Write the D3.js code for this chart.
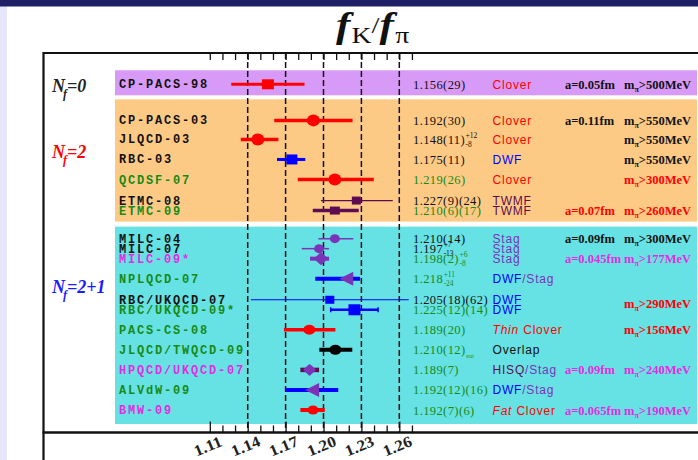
<!DOCTYPE html>
<html><head><meta charset="utf-8">
<script src="https://cdn.jsdelivr.net/npm/d3@7"></script>
<style>body{margin:0;background:#fff;overflow:hidden}svg{display:block}</style>
</head><body><svg id="c" width="698" height="460"></svg>
<script>
// ---------- data ----------
const labels = ["CP-PACS-98","CP-PACS-03","JLQCD-03","RBC-03","QCDSF-07","ETMC-08","ETMC-09","MILC-04","MILC-07","MILC-09*","NPLQCD-07","RBC/UKQCD-07","RBC/UKQCD-09*","PACS-CS-08","JLQCD/TWQCD-09","HPQCD/UKQCD-07","ALVdW-09","BMW-09"];
const slots = [0,3.6,5.5,7.5,9.5,11.6,12.6,15.4,16.4,17.4,19.4,21.5,22.5,24.5,26.5,28.5,30.5,32.5];
const centers = [1.156,1.192,1.148,1.175,1.209,1.226,1.209,1.209,1.1965,1.198,1.218,1.205,1.2245,1.1888,1.2094,1.189,1.191,1.1917];
const lows  = [1.127,1.161,1.1345,1.1632,1.1796,1.198,1.1915,1.196,1.1828,1.1893,1.1935,1.1425,1.2057,1.1687,1.1967,1.1817,1.1703,1.1817];
const highs = [1.185,1.223,1.1643,1.1856,1.2398,1.2548,1.2279,1.2236,1.2044,1.2044,1.229,1.2675,1.2432,1.2094,1.2228,1.1965,1.2117,1.201];
const valueMain = ["1.156(29)","1.192(30)","1.148(11)","1.175(11)","1.219(26)","1.227(9)(24)","1.210(6)(17)","1.210(14)","1.197","1.198(2)","1.218","1.205(18)(62)","1.225(12)(14)","1.189(20)","1.210(12)","1.189(7)","1.192(12)(16)","1.192(7)(6)"];
const valueSup = ["","","+12","","","","","","+7","+6","+11","","","","","","",""];
const valueSub = ["","","-8","","","","","","-13","-8","-24","","","","stat","","",""];
const methods = ["Clover","Clover","Clover","DWF","Clover","TWMF","TWMF","Stag","Stag","Stag","DWF/Stag","DWF","DWF","Thin Clover","Overlap","HISQ/Stag","DWF/Stag","Fat Clover"];
const spacingSlots = [0,3.6,12.6,15.4,17.4,28.5,32.5];
const spacings = ["a=0.05fm","a=0.11fm","a=0.07fm","a=0.09fm","a=0.045fm","a=0.09fm","a=0.065fm"];
const massSlots = [0,3.6,5.5,7.5,9.5,12.6,15.4,17.4,21.85,24.5,28.5,32.5];
const massValues = ["500","550","550","550","300","260","300","177","290","156","240","190"];
const groupNames = ["0","2","2+1"];
const groupSlotRanges = [[-1.4,1.1],[1.5,13.7],[14.2,33.9]];
const groupLabelSlots = [0.35,7.0,20.4];
const tickValues = d3.range(111,128).map(v=>v/100);
const majorTicks = [1.11,1.14,1.17,1.20,1.23,1.26];
const dashedValues = [1.14,1.17,1.20,1.23,1.26];

// ---------- styles ----------
const RED="#ff0000", BLUE="#0000ff", DPUR="#5e0c52", PUR="#7b33b8", GRN="#178a17", MAG="#e52be5", BLK="#111111";
const st = {
 "CP-PACS-98":{shape:"square",w:12,h:10,m:RED,b:RED,bw:3,lab:BLK,val:BLK},
 "CP-PACS-03":{shape:"circle",w:13,h:12,m:RED,b:RED,bw:3.5,lab:BLK,val:BLK},
 "JLQCD-03":{shape:"circle",w:13,h:12,m:RED,b:RED,bw:3.5,lab:BLK,val:BLK},
 "RBC-03":{shape:"square",w:11,h:10,m:BLUE,b:BLUE,bw:3,lab:BLK,val:BLK},
 "QCDSF-07":{shape:"circle",w:13,h:12,m:RED,b:RED,bw:3.5,lab:GRN,val:GRN},
 "ETMC-08":{shape:"square",w:9,h:8,m:DPUR,b:DPUR,bw:1.3,lab:BLK,val:BLK},
 "ETMC-09":{shape:"square",w:10,h:8,m:DPUR,b:DPUR,bw:3.5,lab:GRN,val:GRN},
 "MILC-04":{shape:"circle",w:10,h:9,m:PUR,b:PUR,bw:1.5,lab:BLK,val:BLK},
 "MILC-07":{shape:"circle",w:10,h:9,m:PUR,b:PUR,bw:1.5,lab:BLK,val:BLK},
 "MILC-09*":{shape:"diamond",w:12,h:11,m:PUR,b:PUR,bw:4,lab:MAG,val:GRN},
 "NPLQCD-07":{shape:"triangle",w:14,h:14,m:PUR,b:BLUE,bw:4,lab:GRN,val:GRN},
 "RBC/UKQCD-07":{shape:"square",w:9,h:8,m:BLUE,b:BLUE,bw:1.2,lab:BLK,val:BLK},
 "RBC/UKQCD-09*":{shape:"square",w:12,h:11,m:BLUE,b:BLUE,bw:2.5,cap:5,lab:GRN,val:GRN},
 "PACS-CS-08":{shape:"circle",w:12,h:10,m:RED,b:RED,bw:3.5,lab:GRN,val:GRN},
 "JLQCD/TWQCD-09":{shape:"circle",w:12,h:10,m:"#000",b:"#000",bw:4,lab:GRN,val:GRN},
 "HPQCD/UKQCD-07":{shape:"diamond",w:11,h:10,m:PUR,b:DPUR,bw:4.5,lab:MAG,val:GRN},
 "ALVdW-09":{shape:"triangle",w:14,h:14,m:PUR,b:BLUE,bw:4,lab:GRN,val:GRN},
 "BMW-09":{shape:"circle",w:11,h:9,m:RED,b:RED,bw:4,lab:MAG,val:GRN}
};
const methodSeg = {
 "Clover":[["Clover",RED]],
 "DWF":[["DWF",BLUE]],
 "TWMF":[["TWMF",DPUR]],
 "Stag":[["Stag",PUR]],
 "DWF/Stag":[["DWF",BLUE],["/Stag",PUR]],
 "Thin Clover":[["Thin ",RED,"italic"],["Clover",RED]],
 "Overlap":[["Overlap",BLK]],
 "HISQ/Stag":[["HISQ",DPUR],["/Stag",PUR]],
 "Fat Clover":[["Fat ",RED,"italic"],["Clover",RED]]
};
const spacingColors = [BLK,BLK,RED,BLK,MAG,MAG,MAG];
const massColors = [BLK,BLK,BLK,BLK,RED,RED,BLK,MAG,RED,RED,MAG,MAG];
const panelColors = ["#d89af7","#fdca85","#66e2e4"];
const groupColors = ["#222","#ff0000","#1a1aff"];

// ---------- layout ----------
const svg = d3.select("#c");
const x = d3.scaleLinear().domain([1.14,1.26]).range([247.7,399.3]);
const y = d3.scaleLinear().domain([0,32.5]).range([84.3,410]);
const frameTop = 53, frameBot = 432.5, frameLeft = 43.5;
const panelL = 115, panelR = 697;

svg.append("rect").attr("width",698).attr("height",460).attr("fill","#fff");
svg.append("rect").attr("x",0).attr("y",6).attr("width",7).attr("height",454).attr("fill","#e6e6fa");
svg.append("rect").attr("x",0).attr("y",0).attr("width",698).attr("height",6.5).attr("fill","#1f1f66");

// panels
svg.selectAll("rect.panel").data(groupSlotRanges).join("rect").attr("class","panel")
  .attr("x",panelL).attr("width",panelR-panelL)
  .attr("y",d=>y(d[0])).attr("height",d=>y(d[1])-y(d[0]))
  .attr("fill",(d,i)=>panelColors[i]);

// dashed lines
svg.selectAll("line.dash").data(dashedValues).join("line").attr("class","dash")
  .attr("x1",d=>x(d)).attr("x2",d=>x(d)).attr("y1",frameTop).attr("y2",frameBot)
  .attr("stroke","#111").attr("stroke-width",1.5).attr("stroke-dasharray","6,3");

// axes ticks
const topAxis = d3.axisTop(x).tickValues(tickValues).tickSize(-7).tickFormat("");
const gTop = svg.append("g").attr("transform",`translate(0,${frameTop})`).call(topAxis);
gTop.select(".domain").remove();
gTop.selectAll("line").attr("stroke","#111").attr("stroke-width",1.3);
const botAxis = d3.axisBottom(x).tickValues(tickValues).tickSize(-7).tickFormat("");
const gBot = svg.append("g").attr("transform",`translate(0,${frameBot})`).call(botAxis);
gBot.select(".domain").remove();
gBot.selectAll("line").attr("stroke","#111").attr("stroke-width",1.3)
  .attr("y2",d=>majorTicks.some(m=>Math.abs(m-d)<1e-6)?-11:-7);

// frame
svg.append("path").attr("d",`M${frameLeft},460 V${frameTop} H705`).attr("fill","none").attr("stroke","#111").attr("stroke-width",2.2);
svg.append("line").attr("x1",frameLeft-1).attr("x2",705).attr("y1",frameBot).attr("y2",frameBot).attr("stroke","#111").attr("stroke-width",2.6);

// bottom labels
svg.selectAll("text.tl").data(majorTicks).join("text").attr("class","tl")
  .attr("transform",d=>`translate(${x(d)},${451}) rotate(-22) scale(1.1,1)`)
  .attr("text-anchor","middle").attr("font-family","Liberation Serif").attr("font-weight","bold")
  .attr("font-size",15.5).attr("fill","#222").text(d=>d.toFixed(2));

// title
const tt = svg.append("text").attr("transform","translate(336,37) scale(1.2,1)").attr("font-family","Liberation Serif").attr("fill","#111");
tt.append("tspan").attr("font-size",36).attr("font-style","italic").attr("font-weight","bold").text("f");
tt.append("tspan").attr("font-size",23).attr("dy",6).attr("dx",1).text("K");
tt.append("tspan").attr("font-size",24).attr("dy",-10).text("/");
tt.append("tspan").attr("font-size",36).attr("font-style","italic").attr("font-weight","bold").attr("dy",4).text("f");
tt.append("tspan").attr("font-size",23).attr("dy",6).attr("dx",1).text("π");

// group labels
groupNames.forEach((g,i)=>{
  const t = svg.append("text").attr("x",52).attr("y",y(groupLabelSlots[i])+4)
    .attr("font-family","Liberation Serif").attr("font-style","italic").attr("font-weight","bold")
    .attr("font-size",18).attr("fill",groupColors[i]);
  t.append("tspan").text("N");
  t.append("tspan").attr("font-size",12).attr("dy",6).attr("dx",-2).text("f");
  t.append("tspan").attr("dy",-6).text("="+g);
});

// rows
const rows = labels.map((l,i)=>({l,i,c:centers[i],lo:lows[i],hi:highs[i],yy:y(slots[i]),s:st[l]}));

// error bars
svg.selectAll("line.err").data(rows).join("line").attr("class","err")
  .attr("x1",d=>x(d.lo)).attr("x2",d=>x(d.hi)).attr("y1",d=>d.yy).attr("y2",d=>d.yy)
  .attr("stroke",d=>d.s.b).attr("stroke-width",d=>d.s.bw);
rows.filter(d=>d.s.cap).forEach(d=>{
  [d.lo,d.hi].forEach(v=>svg.append("line").attr("x1",x(v)).attr("x2",x(v))
    .attr("y1",d.yy-d.s.cap/2).attr("y2",d.yy+d.s.cap/2).attr("stroke",d.s.b).attr("stroke-width",1.5));
});

// markers
rows.forEach(d=>{
  const cx=x(d.c), cy=d.yy, w=d.s.w, h=d.s.h, f=d.s.m;
  if(d.s.shape==="square") svg.append("rect").attr("x",cx-w/2).attr("y",cy-h/2).attr("width",w).attr("height",h).attr("fill",f);
  else if(d.s.shape==="circle") svg.append("ellipse").attr("cx",cx).attr("cy",cy).attr("rx",w/2).attr("ry",h/2).attr("fill",f);
  else if(d.s.shape==="diamond") svg.append("path").attr("d",`M${cx-w/2},${cy} L${cx},${cy-h/2} L${cx+w/2},${cy} L${cx},${cy+h/2} Z`).attr("fill",f).attr("stroke",f).attr("stroke-linejoin","round").attr("stroke-width",1.5);
  else if(d.s.shape==="triangle") svg.append("path").attr("d",`M${cx-w/2},${cy} L${cx+w/2},${cy-h/2} L${cx+w/2},${cy+h/2} Z`).attr("fill",f);
});

// left labels
svg.selectAll("text.lab").data(rows).join("text").attr("class","lab")
  .attr("x",119).attr("y",d=>d.yy+4)
  .attr("font-family","Liberation Mono").attr("font-weight","bold").attr("font-size",12)
  .attr("letter-spacing",1.8).attr("fill",d=>d.s.lab).text(d=>d.l);

// value texts
rows.forEach(d=>{
  const t = svg.append("text").attr("x",413).attr("y",d.yy+4.5).attr("font-family","Liberation Serif")
    .attr("font-size",12.5).attr("letter-spacing",0.4).attr("fill",d.s.val).text(valueMain[d.i]);
  const wdt = t.node().getComputedTextLength();
  if(valueSup[d.i]) svg.append("text").attr("x",413+wdt+0.5).attr("y",d.yy-1.5).attr("font-family","Liberation Serif")
    .attr("font-size",7.5).attr("fill",d.s.val).text(valueSup[d.i]);
  if(valueSub[d.i]) svg.append("text").attr("x",413+wdt+0.5).attr("y",d.yy+(valueSub[d.i]==="stat"?8:7.5)).attr("font-family","Liberation Serif")
    .attr("font-size",valueSub[d.i]==="stat"?5.5:7.5).attr("fill",d.s.val).text(valueSub[d.i]);
});

// methods
rows.forEach(d=>{
  const t = svg.append("text").attr("x",492.5).attr("y",d.yy+4.5).attr("font-family","Liberation Sans")
    .attr("font-size",12).attr("letter-spacing",0.8);
  methodSeg[methods[d.i]].forEach(sg=>t.append("tspan").attr("fill",sg[1]).attr("font-style",sg[2]||"normal").text(sg[0]));
});

// spacings
svg.selectAll("text.sp").data(spacings).join("text").attr("class","sp")
  .attr("x",565).attr("y",(d,i)=>y(spacingSlots[i])+4.5)
  .attr("font-family","Liberation Serif").attr("font-weight","bold").attr("font-size",12.5)
  .attr("fill",(d,i)=>spacingColors[i]).text(d=>d);

// pion masses
massValues.forEach((v,i)=>{
  const t = svg.append("text").attr("x",624).attr("y",y(massSlots[i])+4.5)
    .attr("font-family","Liberation Serif").attr("font-weight","bold").attr("font-size",12.5).attr("fill",massColors[i]);
  t.append("tspan").text("m");
  t.append("tspan").attr("font-size",8).attr("dy",3).text("π");
  t.append("tspan").attr("dy",-3).text(">"+v+"MeV");
});
</script></body></html>
